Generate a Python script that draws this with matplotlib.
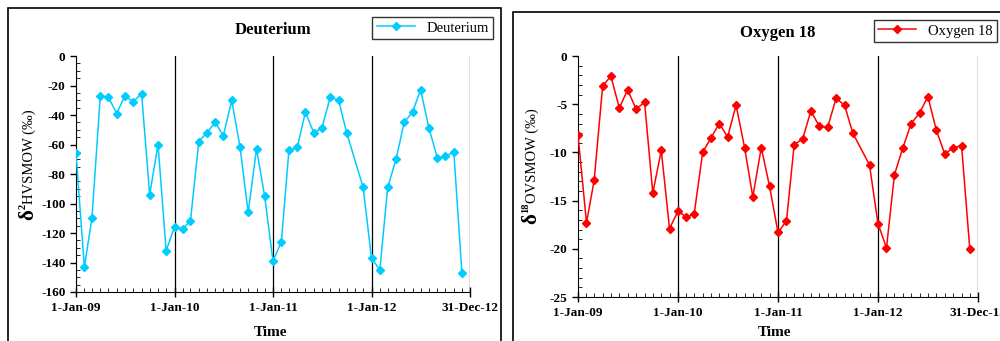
import numpy as np
import pandas as pd
import matplotlib
matplotlib.use('Agg')
import matplotlib.pyplot as plt
import matplotlib.dates as mdates
from matplotlib.patches import Rectangle

plt.rcParams['font.family'] = ['Liberation Serif', 'DejaVu Serif']
plt.rcParams['axes.unicode_minus'] = False

# sampling dates: first of each month, Nov 2011 missing
dates = pd.date_range('2009-01-01', '2012-12-01', freq='MS')
dates = dates[dates != pd.Timestamp('2011-11-01')]

deuterium = [-66, -143, -110, -27, -28, -39, -27, -31, -25.5, -94, -60, -132,
             -116, -117, -112, -58, -52, -45, -54, -30, -62, -106, -63, -95,
             -139, -126, -64, -62, -38, -52, -49, -28, -30, -52, -89,
             -137, -145, -89, -70, -45, -38, -23, -49, -69, -68, -65, -147]
oxygen18 = [-8.2, -17.3, -12.9, -3.1, -2.1, -5.4, -3.5, -5.5, -4.8, -14.2, -9.8, -17.9,
            -16.1, -16.7, -16.4, -10.0, -8.5, -7.0, -8.4, -5.1, -9.5, -14.6, -9.5, -13.5,
            -18.3, -17.1, -9.2, -8.6, -5.7, -7.3, -7.4, -4.4, -5.1, -8.0, -11.3,
            -17.4, -19.9, -12.3, -9.5, -7.0, -5.9, -4.2, -7.7, -10.2, -9.5, -9.3, -20.0]

tick_dates = pd.to_datetime(['2009-01-01', '2010-01-01', '2011-01-01', '2012-01-01', '2012-12-31'])
tick_labels = ['1-Jan-09', '1-Jan-10', '1-Jan-11', '1-Jan-12', '31-Dec-12']

fig = plt.figure(figsize=(10, 3.41), dpi=100)
W, H = 1000.0, 341.0

# chart frames
fig.patches.append(Rectangle((0.008, -0.1), 0.493, 1.077, transform=fig.transFigure,
                             fill=False, ec='black', lw=1.2))
fig.patches.append(Rectangle((0.513, -0.1), 0.6, 1.066, transform=fig.transFigure,
                             fill=False, ec='black', lw=1.2))

ax1 = fig.add_axes([0.076, 0.1437, 0.394, 0.692])
ax2 = fig.add_axes([0.578, 0.129, 0.400, 0.7067])

panels = [
    (ax1, deuterium, '#00CCFF', 'Deuterium', (-160, 0), 20, 5,
     ('2', 'HVSMOW (‰)'), (28, 220), (0.493, 1 - 17 / H), 30),
    (ax2, oxygen18, '#FF0000', 'Oxygen 18', (-25, 0), 5, 1,
     ('18', 'OVSMOW (‰)'), (531, 224), (0.997, 1 - 20 / H), 33),
]

renderer = fig.canvas.get_renderer()

for ax, vals, col, name, ylim, major, minor, ylab, lpos, legpos, ttl_y in panels:
    for d in tick_dates[1:]:
        ax.axvline(d, color='black', lw=0.9, zorder=1)
    ax.plot(dates, vals, '-', color=col, marker='D', ms=4.5, lw=1.1,
            label=name, zorder=3)
    ax.set_xlim(tick_dates[0], tick_dates[-1])
    ax.set_ylim(*ylim)
    ax.set_yticks(np.arange(ylim[0], ylim[1] + 1, major))
    ax.set_yticks(np.arange(ylim[0], ylim[1] + 0.1, minor), minor=True)
    ax.set_xticks(tick_dates)
    ax.set_xticklabels(tick_labels)
    ax.xaxis.set_minor_locator(mdates.MonthLocator())
    for s in ['top', 'right']:
        ax.spines[s].set_visible(False)
    ax.tick_params(axis='both', which='major', labelsize=9.5, width=1)
    ax.tick_params(axis='x', which='major', direction='inout', length=7, pad=4)
    ax.tick_params(axis='x', which='minor', direction='in', length=3)
    ax.tick_params(axis='y', which='major', direction='out', length=4)
    ax.tick_params(axis='y', which='minor', direction='in', length=3)
    for lab in ax.get_xticklabels() + ax.get_yticklabels():
        lab.set_fontweight('bold')
    fig.text(ax.get_position().x0 + ax.get_position().width / 2, 1 - ttl_y / H, name,
             fontsize=12, fontweight='bold', ha='center', va='center')
    fig.text(ax.get_position().x0 + ax.get_position().width / 2 - 0.003, 1 - 333 / H, 'Time',
             fontsize=11, fontweight='bold', ha='center', va='center')

    # y label: big bold delta, superscript, then the rest
    x = lpos[0] / W
    y = 1 - lpos[1] / H
    t = fig.text(x, y, 'δ', fontsize=15, fontweight='bold', rotation=90,
                 ha='center', va='bottom')
    bb = t.get_window_extent(renderer)
    t2 = fig.text(x - 5 / W, bb.y1 / H, ylab[0], fontsize=7.5, fontweight='bold',
                  rotation=90, ha='center', va='bottom')
    bb2 = t2.get_window_extent(renderer)
    fig.text(x + 1 / W, bb2.y1 / H, ylab[1], fontsize=10.5, rotation=90,
             ha='center', va='bottom')

    leg = ax.legend(loc='upper right', bbox_to_anchor=legpos,
                    bbox_transform=fig.transFigure, fontsize=10.5,
                    frameon=True, fancybox=False, edgecolor='black',
                    handlelength=2.6, borderpad=0.3, borderaxespad=0)
    leg.get_frame().set_linewidth(1.0)

fig.savefig('out.png', dpi=100)
